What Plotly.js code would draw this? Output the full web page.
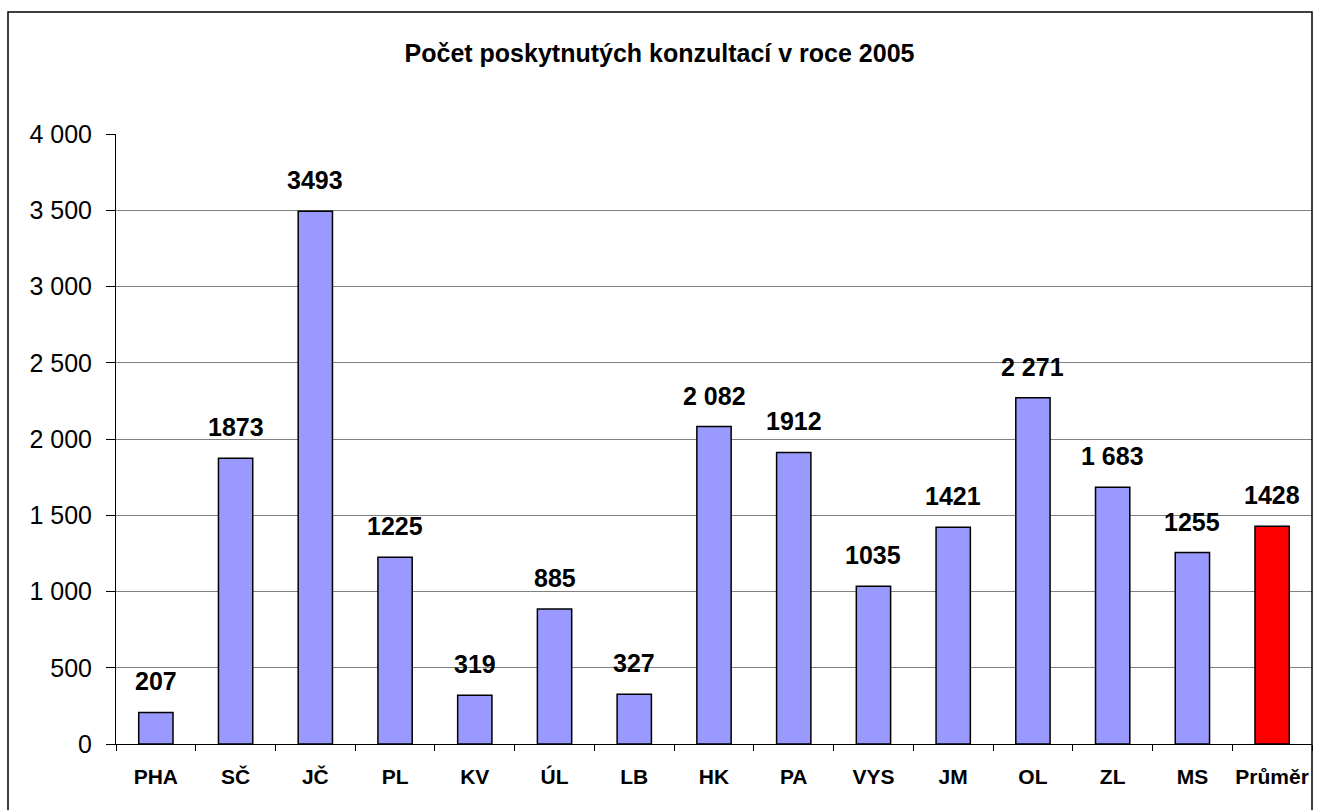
<!DOCTYPE html>
<html>
<head>
<meta charset="utf-8">
<script src="https://cdn.plot.ly/plotly-3.0.1.min.js"></script>
<style>html,body{margin:0;padding:0;background:#fff;}#chart{width:1319px;height:810px;}</style>
</head>
<body>
<div id="chart"></div>
<script>
const categories = ["PHA","SČ","JČ","PL","KV","ÚL","LB","HK","PA","VYS","JM","OL","ZL","MS","Průměr"];
const values = [207,1873,3493,1225,319,885,327,2082,1912,1035,1421,2271,1683,1255,1428];
const valueLabels = ["207","1873","3493","1225","319","885","327","2 082","1912","1035","1421","2 271","1 683","1255","1428"];
const barColors = categories.map(c => c === "Průměr" ? "#FF0000" : "#9999FF");

const W = 1319, H = 810;
const mL = 116, mR = 7, mT = 134, mB = 66;
const pw = W - mL - mR, ph = H - mT - mB;
const FONT = "Liberation Sans, Arial, sans-serif";

const trace = {
  type: "bar",
  x: categories,
  y: values,
  marker: {color: barColors, line: {color: "#000", width: 1.5}},
  width: 0.43,
  hoverinfo: "x+y"
};

const annotations = categories.map((c, i) => ({
  x: c, y: values[i], xref: "x", yref: "y",
  text: "<b>" + valueLabels[i] + "</b>",
  showarrow: false,
  xanchor: "center", yanchor: "bottom",
  yshift: 15,
  font: {family: FONT, size: 25, color: "#000"}
}));

const layout = {
  width: W, height: H,
  margin: {l: mL, r: mR, t: mT, b: mB, pad: 0},
  paper_bgcolor: "#fff",
  plot_bgcolor: "#fff",
  showlegend: false,
  separators: ", ",
  font: {family: FONT, color: "#000"},
  title: {
    text: "<b>Počet poskytnutých konzultací v roce 2005</b>",
    font: {size: 25, color: "#000"},
    x: 0.5, xanchor: "center",
    y: 1 - 53/H, yanchor: "middle"
  },
  xaxis: {
    type: "category",
    showgrid: false,
    showline: true, linecolor: "#000", linewidth: 1,
    ticks: "outside", tickson: "boundaries", ticklen: 6, tickcolor: "#000",
    tickfont: {size: 21, color: "#000", weight: "bold"},
    tickangle: 0,
    ticklabelstandoff: 14,
    automargin: false,
    zeroline: false,
    fixedrange: true
  },
  yaxis: {
    range: [0, 4000],
    dtick: 500,
    tickformat: ",d",
    showgrid: true, gridcolor: "#808080", gridwidth: 1,
    showline: true, linecolor: "#000", linewidth: 1,
    ticks: "outside", ticklen: 9, tickcolor: "#000",
    tickfont: {size: 25, color: "#000"},
    ticklabelstandoff: 9,
    automargin: false,
    zeroline: false,
    fixedrange: true
  },
  annotations: annotations,
  shapes: [{
    type: "rect", xref: "paper", yref: "paper",
    x0: (8 - mL) / pw, x1: (1312 - mL) / pw,
    y0: -(H + 5 - (mT + ph)) / ph, y1: 1 + (mT - 12) / ph,
    line: {color: "#000", width: 1.5}, fillcolor: "rgba(0,0,0,0)", layer: "above"
  }]
};

Plotly.newPlot("chart", [trace], layout, {displayModeBar: false, staticPlot: true});
</script>
</body>
</html>
